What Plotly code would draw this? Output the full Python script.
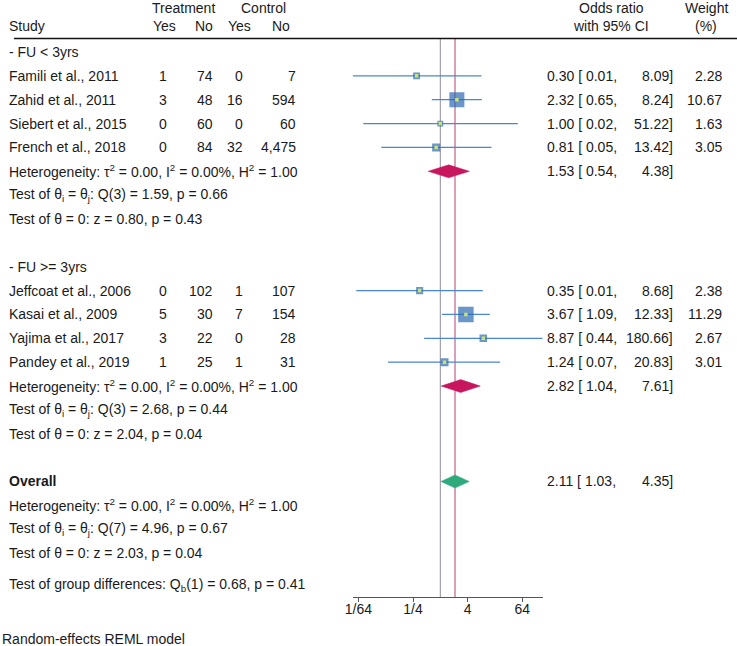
import numpy as np
import plotly.graph_objects as go

# ---- data ----
groups = ["- FU < 3yrs", "- FU >= 3yrs"]

studies1 = ["Famili et al., 2011", "Zahid et al., 2011", "Siebert et al., 2015", "French et al., 2018"]
t_yes1 = [1, 3, 0, 0]
t_no1 = [74, 48, 60, 84]
c_yes1 = [0, 16, 0, 32]
c_no1 = [7, 594, 60, 4475]
or1 = [0.30, 2.32, 1.00, 0.81]
lo1 = [0.0117, 0.65, 0.02, 0.05]
hi1 = [8.09, 8.24, 51.22, 13.42]
w1 = [2.28, 10.67, 1.63, 3.05]

studies2 = ["Jeffcoat et al., 2006", "Kasai et al., 2009", "Yajima et al., 2017", "Pandey et al., 2019"]
t_yes2 = [0, 5, 3, 1]
t_no2 = [102, 30, 22, 25]
c_yes2 = [1, 7, 0, 1]
c_no2 = [107, 154, 28, 31]
or2 = [0.35, 3.67, 8.87, 1.24]
lo2 = [0.014, 1.09, 0.44, 0.07]
hi2 = [8.68, 12.33, 180.66, 20.83]
w2 = [2.38, 11.29, 2.67, 3.01]

sub_or = [1.53, 2.82]
sub_lo = [0.54, 1.04]
sub_hi = [4.38, 7.61]
sub_het = ["Heterogeneity: τ<sup>2</sup> = 0.00, I<sup>2</sup> = 0.00%, H<sup>2</sup> = 1.00"] * 2
sub_q = ["Test of θ<sub>i</sub> = θ<sub>j</sub>: Q(3) = 1.59, p = 0.66",
         "Test of θ<sub>i</sub> = θ<sub>j</sub>: Q(3) = 2.68, p = 0.44"]
sub_z = ["Test of θ = 0: z = 0.80, p = 0.43", "Test of θ = 0: z = 2.04, p = 0.04"]

all_or, all_lo, all_hi = 2.11, 1.03, 4.35
all_het = "Heterogeneity: τ<sup>2</sup> = 0.00, I<sup>2</sup> = 0.00%, H<sup>2</sup> = 1.00"
all_q = "Test of θ<sub>i</sub> = θ<sub>j</sub>: Q(7) = 4.96, p = 0.67"
all_z = "Test of θ = 0: z = 2.03, p = 0.04"
grp_test = "Test of group differences: Q<sub>b</sub>(1) = 0.68, p = 0.41"

tick_vals = [1/64, 1/4, 4, 64]
tick_text = ["1/64", "1/4", "4", "64"]

# ---- styling ----
W, H = 737, 646
FONT = "Liberation Sans, Arial, sans-serif"
TXT = "#1a1a1a"
SQ = "#2c69b3"
CI = "#4a87cf"
DOT = "#c9e36b"
RED = "#c8165e"
GRN = "#2eaa7d"

# column x positions (pixels)
X_STUDY = -1.5
X_TY, X_TN, X_CY, X_CN = 163, 209, 240, 293
X_OR_L, X_OR_R, X_W = 543, 674, 724

# row k sits at y = ROW0 + ROW_H * k
ROW0, ROW_H = 52, 23.86
AXIS_Y = 597


def px(x):
    return x / W


def krow(y):
    return (y - ROW0) / ROW_H


ann = []


def txt(x, y, s, anchor="left", yref="y", bold=False):
    if bold:
        s = "<b>" + s + "</b>"
    ann.append(dict(x=px(x), xref="paper", y=y, yref=yref, text=s, showarrow=False,
                    xanchor=anchor, yanchor="middle", font=dict(size=14, color=TXT, family=FONT)))


# headers
h1, h2 = krow(7.5), krow(26)
txt(177, h1, "Treatment", "center")
txt(258, h1, "Control", "center")
txt(X_STUDY, h2, "Study")
txt(158.5, h2, "Yes", "center")
txt(209, h2, "No", "right")
txt(234, h2, "Yes", "center")
txt(275.5, h2, "No", "center")
txt(610, h1, "Odds ratio", "center")
txt(610, h2, "with 95% CI", "center")
txt(706, h1, "Weight", "center")
txt(706, h2, "(%)", "center")

fig = go.Figure()

blocks = [
    (studies1, t_yes1, t_no1, c_yes1, c_no1, or1, lo1, hi1, w1),
    (studies2, t_yes2, t_no2, c_yes2, c_no2, or2, lo2, hi2, w2),
]

line_k = krow(38.5)
y_top, y_bot = krow(0), krow(AXIS_Y)

# reference lines: no effect and overall estimate
fig.add_trace(go.Scatter(x=[1, 1], y=[line_k, y_bot], mode="lines",
                         line=dict(color="#8e8c9c", width=1), hoverinfo="skip"))
fig.add_trace(go.Scatter(x=[all_or, all_or], y=[line_k, y_bot], mode="lines",
                         line=dict(color="#b4416f", width=1), hoverinfo="skip"))

row = 0
for g, (names, ty, tn, cy, cn, est, lo, hi, wt) in enumerate(blocks):
    txt(X_STUDY, row, groups[g])
    rows = []
    for i in range(len(names)):
        row += 1
        rows.append(row)
        txt(X_STUDY, row, names[i])
        txt(X_TY, row, f"{ty[i]:,}", "right")
        txt(X_TN, row, f"{tn[i]:,}", "right")
        txt(X_CY, row, f"{cy[i]:,}", "right")
        txt(X_CN, row, f"{cn[i]:,}", "right")
        txt(X_OR_L, row, f"{est[i]:.2f} [ {lo[i]:.2f},")
        txt(X_OR_R, row, f"{hi[i]:.2f}]", "right")
        txt(X_W, row, f"{wt[i]:.2f}", "right")
        fig.add_trace(go.Scatter(x=[lo[i], hi[i]], y=[row, row], mode="lines",
                                 line=dict(color=CI, width=1.3), hoverinfo="skip"))
    fig.add_trace(go.Scatter(x=est, y=rows, mode="markers", hoverinfo="skip",
                             marker=dict(symbol="square", color=SQ,
                                         size=[4.6 * np.sqrt(v) for v in wt], line=dict(width=0))))
    fig.add_trace(go.Scatter(x=est, y=rows, mode="markers", hoverinfo="skip",
                             marker=dict(symbol="square", color=DOT, size=3.5, line=dict(width=0))))
    row += 1
    txt(X_STUDY, row, sub_het[g])
    txt(X_OR_L, row, f"{sub_or[g]:.2f} [ {sub_lo[g]:.2f},")
    txt(X_OR_R, row, f"{sub_hi[g]:.2f}]", "right")
    fig.add_trace(go.Scatter(x=[sub_lo[g], sub_or[g], sub_hi[g], sub_or[g], sub_lo[g]],
                             y=[row, row - 0.27, row, row + 0.27, row], mode="lines",
                             fill="toself", fillcolor=RED, line=dict(color=RED, width=0.5),
                             hoverinfo="skip"))
    row += 1
    txt(X_STUDY, row, sub_q[g])
    row += 1
    txt(X_STUDY, row, sub_z[g])
    row += 2

# overall
txt(X_STUDY, row, "Overall", bold=True)
txt(X_OR_L, row, f"{all_or:.2f} [ {all_lo:.2f},")
txt(X_OR_R, row, f"{all_hi:.2f}]", "right")
fig.add_trace(go.Scatter(x=[all_lo, all_or, all_hi, all_or, all_lo],
                         y=[row, row - 0.27, row, row + 0.27, row], mode="lines",
                         fill="toself", fillcolor=GRN, line=dict(color=GRN, width=0.5),
                         hoverinfo="skip"))
txt(X_STUDY, row + 1, all_het)
txt(X_STUDY, row + 2, all_q)
txt(X_STUDY, row + 3, all_z)
txt(X_STUDY, krow(585), grp_test)

# footnote below the axis
ann.append(dict(x=px(-8), xref="paper", y=(H - 639) / H, yref="paper",
                text="Random-effects REML model", showarrow=False, xanchor="left", yanchor="middle",
                font=dict(size=14, color=TXT, family=FONT)))

xmin = np.log10(min(lo1 + lo2))
xmax = np.log10(max(hi1 + hi2))

fig.update_layout(
    width=W, height=H,
    margin=dict(l=0, r=0, t=0, b=0),
    paper_bgcolor="white", plot_bgcolor="white",
    showlegend=False,
    annotations=ann,
    shapes=[dict(type="line", xref="paper", yref="y", x0=px(6), x1=1, y0=line_k, y1=line_k,
                 line=dict(color="#111", width=1.3))],
    xaxis=dict(type="log", range=[xmin, xmax], domain=[px(348.5), px(540.5)],
               tickvals=tick_vals, ticktext=tick_text, ticks="outside", ticklen=4,
               ticklabelstandoff=-5,
               tickcolor="#555", showline=True, linecolor="#555", linewidth=1,
               showgrid=False, zeroline=False,
               tickfont=dict(size=14, color=TXT, family=FONT)),
    yaxis=dict(range=[y_bot, y_top], domain=[(H - AXIS_Y) / H, 1], visible=False,
               showgrid=False, zeroline=False),
)

# the page body has a default 8px margin; drop it so the figure fills the window
fig.write_html("out.html", config={"displayModeBar": False},
               post_script="document.body.style.margin='0';")
